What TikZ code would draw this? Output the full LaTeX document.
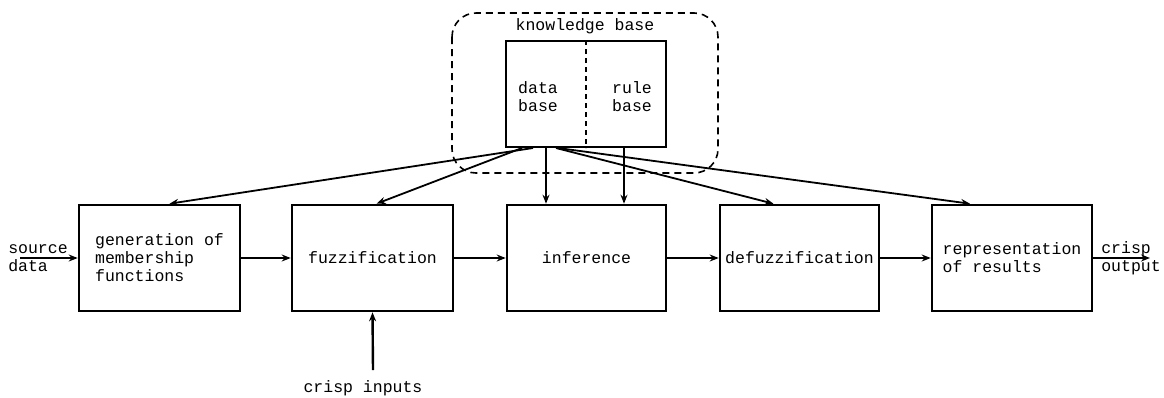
\documentclass[tikz,border=0pt]{standalone}
\usepackage{fontspec}
\setmonofont{Liberation Mono}
\usetikzlibrary{arrows.meta}
\begin{document}
\begin{tikzpicture}[x=1pt,y=-1pt,
  every node/.style={font=\ttfamily\fontsize{16.5}{18}\selectfont, inner sep=0pt},
  stage/.style={draw, line width=2.6pt, minimum height=106pt},
  link/.style={line width=1.8pt, -{Stealth[length=9pt,width=7pt]}},
  thin link/.style={line width=1.3pt, -{Stealth[length=9pt,width=7pt]}}]
\useasboundingbox (0,0) rectangle (1164,397);

% knowledge base frame
\draw[line width=1.6pt, dash pattern=on 7pt off 5pt, rounded corners=24pt]
  (452,13) rectangle (718,173);
\node (kbtitle) at (585,26) {knowledge base};
\node[draw, line width=2pt, minimum width=160pt, minimum height=106pt] (kb) at (586,94) {};
\draw[line width=1.6pt, dash pattern=on 5pt off 4pt] (kb.north) -- (kb.south);
\node[align=left] (db) at (538,97) {data\\base};
\node[align=left] (rb) at (632,97) {rule\\base};

% processing stages
\node[stage, minimum width=161pt, align=left] (b1) at (159.5,258) {generation of\\membership\\functions};
\node[stage, minimum width=161pt] (b2) at (372.5,258) {fuzzification};
\node[stage, minimum width=159pt] (b3) at (586.5,258) {inference};
\node[stage, minimum width=159pt] (b4) at (799.5,258) {defuzzification};
\node[stage, minimum width=160pt, align=left] (b5) at (1012,258) {representation\\of results};

% external inputs and outputs
\node[align=left] (srctext) at (38,258) {source\\data};
\coordinate (src) at (20,258);
\node[align=left] (outtext) at (1131,258) {crisp\\output};
\coordinate (out) at (1150,258);
\node (intext) at (363,388) {crisp inputs};
\coordinate (in) at (373,370);

% main chain
\draw[link] (src) -- (b1.west);
\draw[link] (b1.east) -- (b2.west);
\draw[link] (b2.east) -- (b3.west);
\draw[link] (b3.east) -- (b4.west);
\draw[link] (b4.east) -- (b5.west);
\draw[link] (b5.east) -- (out);
\draw[link, line width=2.4pt] (in) -- (b2.south);

% knowledge base feeds
\draw[link] ([xshift=-53pt]kb.south) -- ([xshift=10pt]b1.north);
\draw[link] ([xshift=-64pt]kb.south) -- ([xshift=4pt]b2.north);
\draw[link] ([xshift=-40pt]kb.south) -- ([xshift=-40.5pt]b3.north);
\draw[thin link] ([xshift=38pt]kb.south) -- ([xshift=37.5pt]b3.north);
\draw[link] ([xshift=-30pt]kb.south) -- ([xshift=-26pt]b4.north);
\draw[link] ([xshift=-28pt]kb.south) -- ([xshift=-42pt]b5.north);
\end{tikzpicture}
\end{document}
